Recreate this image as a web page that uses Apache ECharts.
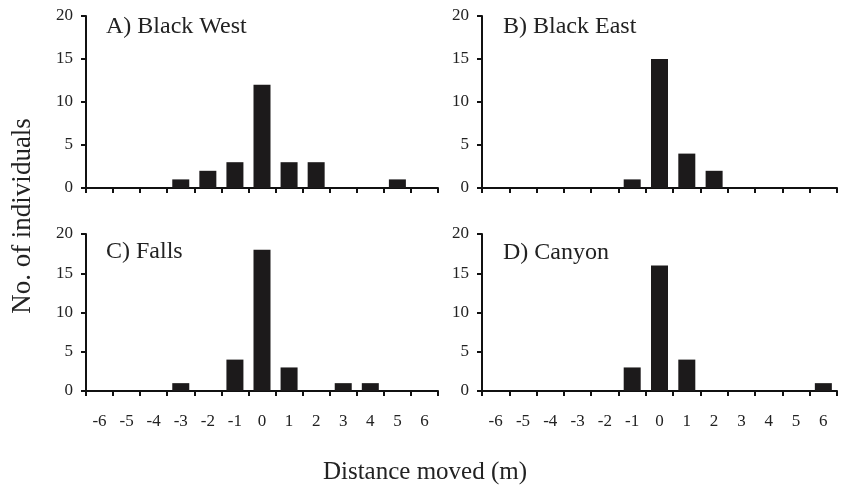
<!DOCTYPE html>
<html><head><meta charset="utf-8">
<script src="https://cdn.jsdelivr.net/npm/echarts@6/dist/echarts.min.js"></script>
<style>html,body{margin:0;padding:0;background:#fff}#c{width:844px;height:490px}</style>
</head><body><div id="c"></div>
<script>
const categories = ['-6','-5','-4','-3','-2','-1','0','1','2','3','4','5','6'];
const yTicks = [0,5,10,15,20];
const panelTitles = ['A) Black West','B) Black East','C) Falls','D) Canyon'];
const blackWest = [0,0,0,1,2,3,12,3,3,0,0,1,0];
const blackEast = [0,0,0,0,0,1,15,4,2,0,0,0,0];
const falls     = [0,0,0,1,0,4,18,3,0,1,1,0,0];
const canyon    = [0,0,0,0,0,3,16,4,0,0,0,0,1];
const seriesData = [blackWest, blackEast, falls, canyon];

const FONT = '"Liberation Serif","DejaVu Serif",serif';
const grids = [
  {left:86, right:406, top:16, height:172},
  {left:482, right:7, top:16, height:172},
  {left:86, right:406, top:234, height:157},
  {left:482, right:7, top:234, height:157}
];
const titlePos = [[106,15],[503,15],[106,240],[503,241]];
const chart = echarts.init(document.getElementById('c'), null, {renderer:'canvas'});
const axisLine = {show:true, onZero:false, lineStyle:{color:'#111', width:2}};
const option = {
  animation:false,
  backgroundColor:'#fff',
  grid: grids,
  xAxis: grids.map((g,i)=>({
    type:'category', gridIndex:i, data:categories, boundaryGap:true,
    axisLine: axisLine,
    axisTick:{show:true, interval:0, length:5, inside:false, lineStyle:{color:'#111', width:2}},
    axisLabel:{show:i>=2, interval:0, margin:22, color:'#222', fontFamily:FONT, fontSize:17},
    splitLine:{show:false}
  })),
  yAxis: grids.map((g,i)=>({
    type:'value', gridIndex:i, min:yTicks[0], max:yTicks[yTicks.length-1], interval:5,
    axisLine: axisLine,
    axisTick:{show:true, length:5, lineStyle:{color:'#111', width:2}},
    axisLabel:{margin:13, color:'#222', fontFamily:FONT, fontSize:17},
    splitLine:{show:false}
  })),
  series: seriesData.map((d,i)=>({
    type:'bar', xAxisIndex:i, yAxisIndex:i, data:d, barWidth:17,
    itemStyle:{color:'#1c1a1b'}
  })),
  graphic: [
    ...panelTitles.map((t,i)=>({
      type:'text', left:titlePos[i][0], top:titlePos[i][1],
      style:{text:t, font:'24px '+FONT, fill:'#222'}
    })),
    {type:'text', x:23, y:216, rotation:Math.PI/2,
     style:{text:'No. of individuals', font:'27px '+FONT, fill:'#222', align:'center', verticalAlign:'middle'}},
    {type:'text', x:425, y:472,
     style:{text:'Distance moved (m)', font:'25px '+FONT, fill:'#222', align:'center', verticalAlign:'middle'}}
  ]
};
chart.setOption(option);
</script></body></html>
